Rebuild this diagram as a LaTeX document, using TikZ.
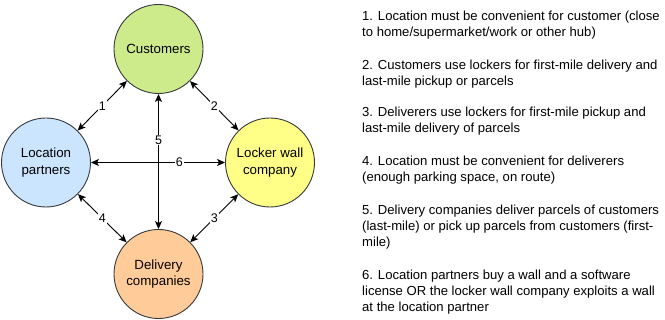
\documentclass[tikz,border=0pt]{standalone}
\usepackage{fontspec}
\setmainfont{Liberation Sans}
\usetikzlibrary{arrows.meta}
\definecolor{rim}{HTML}{36393D}
\definecolor{custfill}{HTML}{CDEB8B}
\definecolor{locfill}{HTML}{CCE5FF}
\definecolor{lockfill}{HTML}{FFFF88}
\definecolor{delfill}{HTML}{FFCC99}
\begin{document}
\begin{tikzpicture}[x=1pt,y=-1pt,
  party/.style={circle, draw=rim, line width=0.9pt, minimum size=89pt, inner sep=0pt,
    align=center, font=\fontsize{13.3}{16.5}\selectfont, text=black},
  tip/.style={Stealth[length=8pt,width=7pt,inset=2pt]},
  link/.style={{Stealth[length=8pt,width=7pt,inset=2pt]}-{Stealth[length=8pt,width=7pt,inset=2pt]}, line width=0.9pt, black},
  num/.style={fill=white, inner sep=1pt, font=\fontsize{12.5}{14}\selectfont},
  note/.style={anchor=base west, align=left, inner sep=0pt, font=\fontsize{13.1}{16}\selectfont}]
\useasboundingbox (0,0) rectangle (665,320);

% the four parties
\node[party, fill=custfill] (cu) at (158.5,49) {Customers};
\node[party, fill=locfill]  (lp) at (46,162.5) {Location\\partners};
\node[party, fill=lockfill] (lw) at (270,162.5) {Locker wall\\company};
\node[party, fill=delfill]  (dc) at (158.5,274) {Delivery\\companies};

% relations between them
\draw[link] (lp) -- node[num] {1} (cu);
\draw[link] (cu) -- node[num] {2} (lw);
\draw[link] (dc) -- node[num] {3} (lw);
\draw[link] (lp) -- node[num] {4} (dc);
\draw[link] (cu) -- node[num, pos=0.34] {5} (dc);
\draw[link] (lp) -- node[num, pos=0.66] {6} (lw);

% legend of the relations (base anchor sits on the last line)
\node[note] (n1) at (362,36.5) {1. Location must be convenient for customer (close\\to home/supermarket/work or other hub)};
\node[note] (n2) at (362,85.5) {2. Customers use lockers for first-mile delivery and\\last-mile pickup or parcels};
\node[note] (n3) at (362,132.5) {3. Deliverers use lockers for first-mile pickup and\\last-mile delivery of parcels};
\node[note] (n4) at (362,182) {4. Location must be convenient for deliverers\\(enough parking space, on route)};
\node[note] (n5) at (362,246.5) {5. Delivery companies deliver parcels of customers\\(last-mile) or pick up parcels from customers (first-\\mile)};
\node[note] (n6) at (362,311.5) {6. Location partners buy a wall and a software\\license OR the locker wall company exploits a wall\\at the location partner};
\end{tikzpicture}
\end{document}
